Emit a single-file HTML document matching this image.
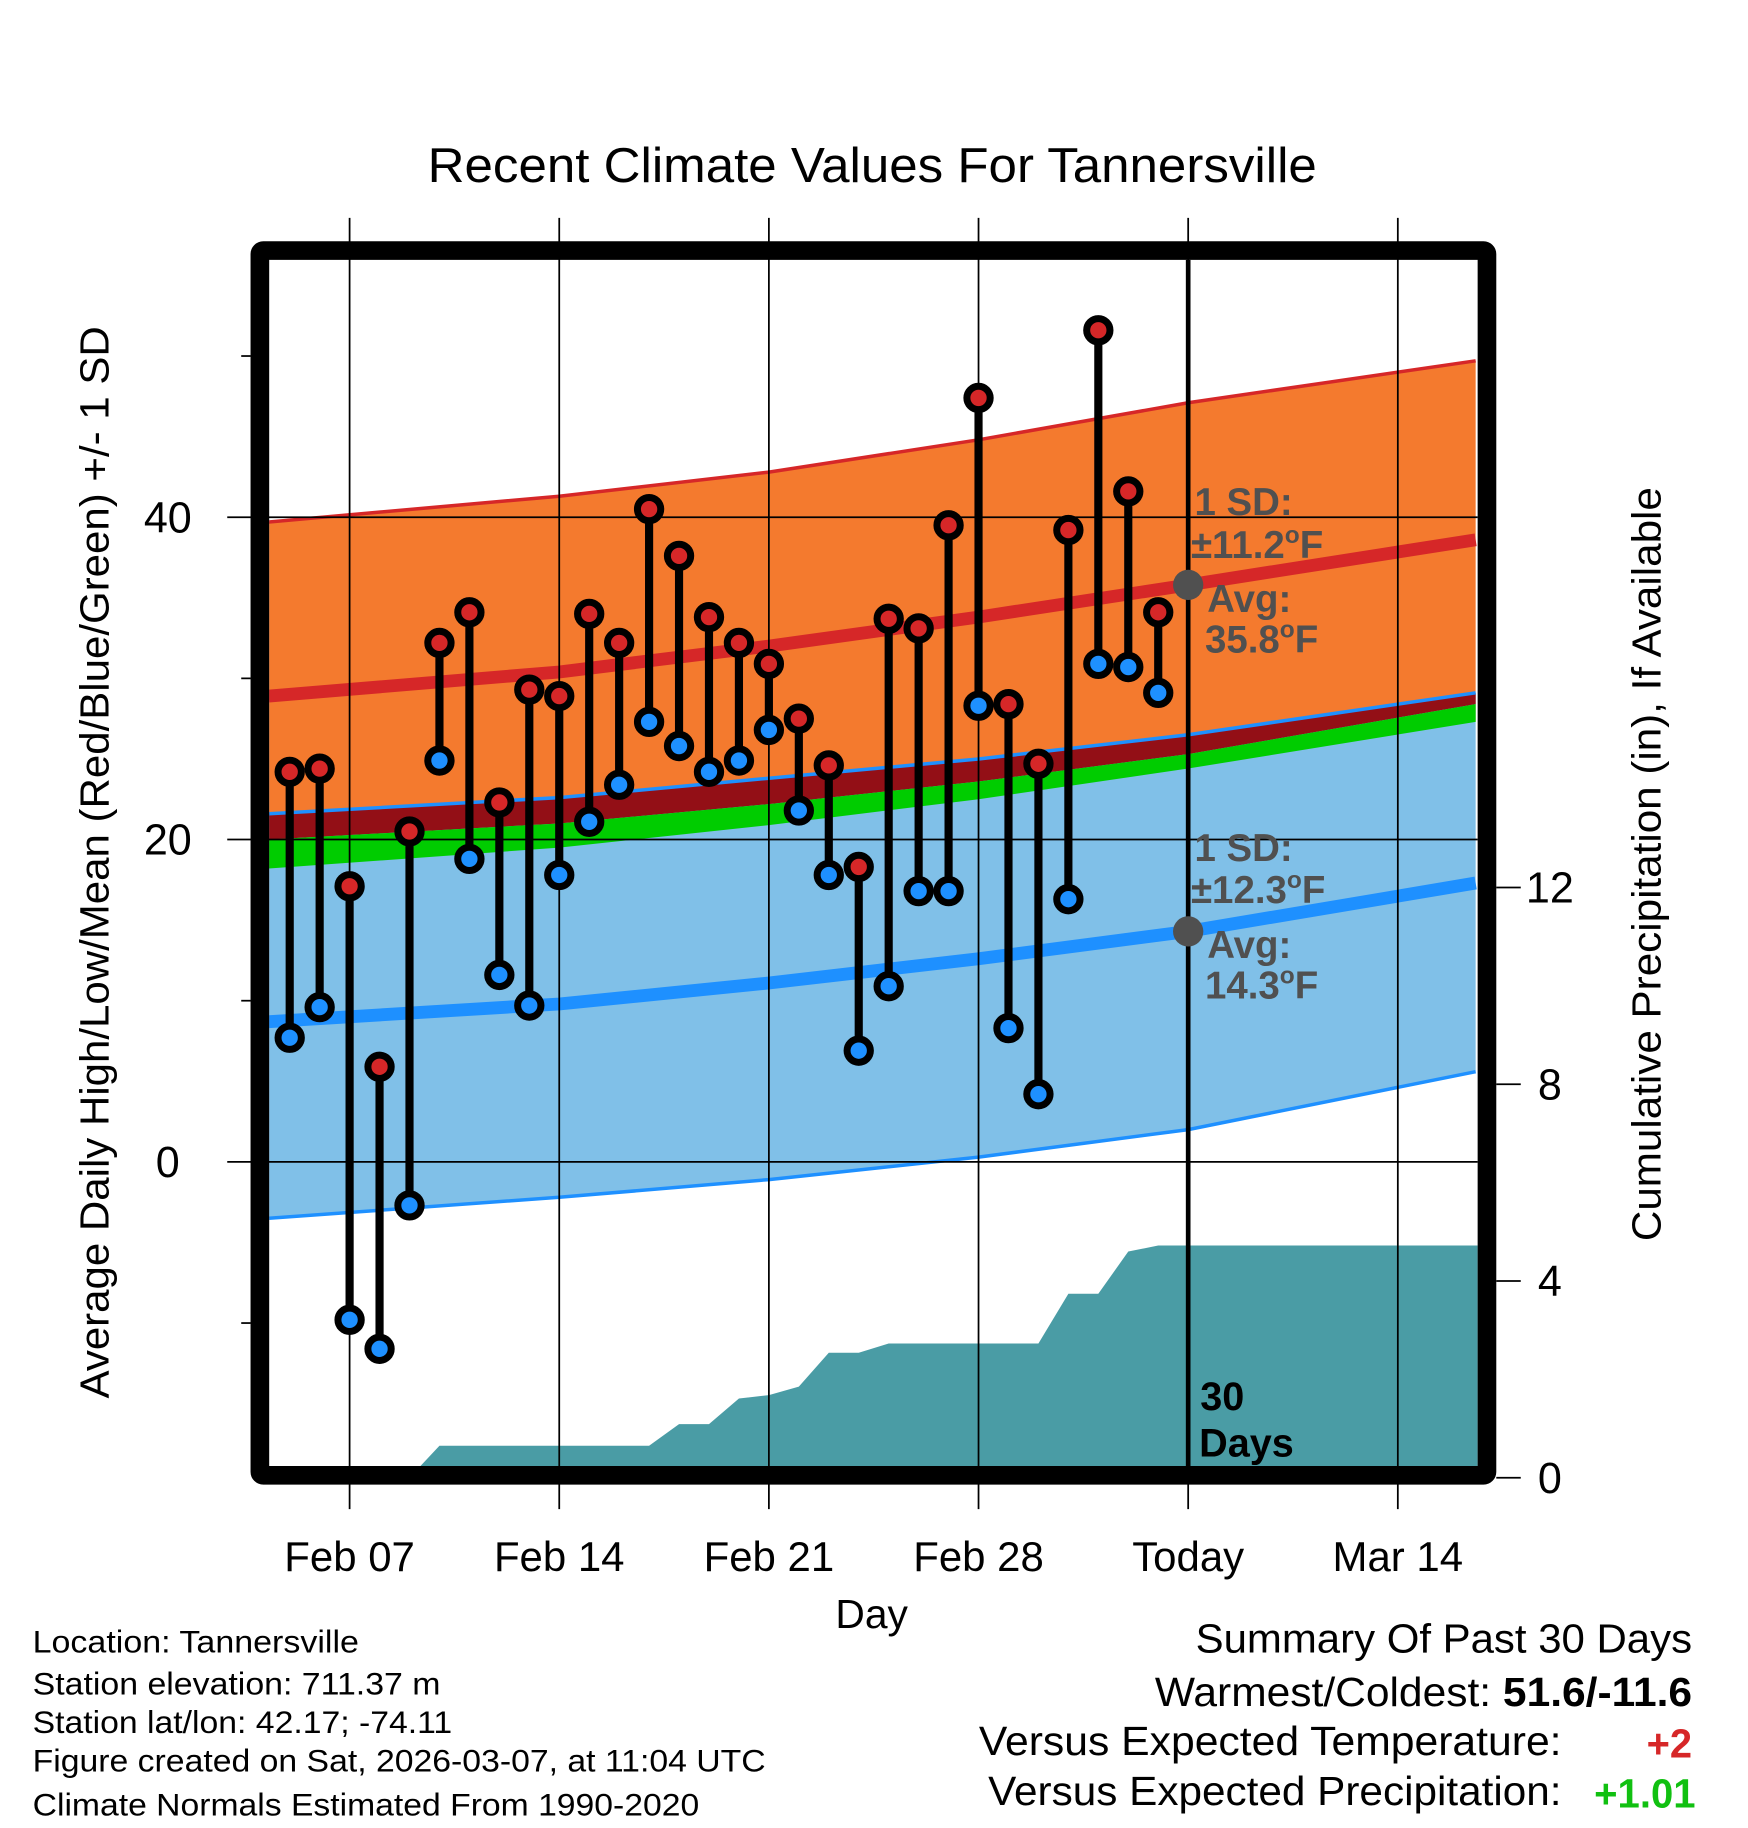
<!DOCTYPE html>
<html><head><meta charset="utf-8"><style>
html,body{margin:0;padding:0;background:#fff}
svg{display:block}
text{font-family:"Liberation Sans",sans-serif}
</style></head><body>
<svg id="chart" xmlns="http://www.w3.org/2000/svg" width="1748" height="1828" viewBox="0 0 1500 1568.6" preserveAspectRatio="none">
<defs><clipPath id="plotclip"><rect x="231" y="223" width="1037" height="1036"/></clipPath></defs>
<text x="367" y="156" font-size="42" textLength="763" lengthAdjust="spacingAndGlyphs">Recent Climate Values For Tannersville</text>
<g id="plot" clip-path="url(#plotclip)"></g>
<g id="axes"></g>
<g id="marks"></g>
<text transform="translate(93,1200) rotate(-90)" font-size="35" textLength="920" lengthAdjust="spacingAndGlyphs">Average Daily High/Low/Mean (Red/Blue/Green) +/- 1 SD</text>
<text transform="translate(1425,1065) rotate(-90)" font-size="35" textLength="647" lengthAdjust="spacingAndGlyphs">Cumulative Precipitation (in), If Available</text>
<text x="748" y="1397" font-size="35" text-anchor="middle">Day</text>
<g font-size="27">
<text x="28" y="1418" textLength="280" lengthAdjust="spacingAndGlyphs">Location: Tannersville</text>
<text x="28" y="1454" textLength="350" lengthAdjust="spacingAndGlyphs">Station elevation: 711.37 m</text>
<text x="28" y="1487" textLength="360" lengthAdjust="spacingAndGlyphs">Station lat/lon: 42.17; -74.11</text>
<text x="28" y="1520" textLength="629" lengthAdjust="spacingAndGlyphs">Figure created on Sat, 2026-03-07, at 11:04 UTC</text>
<text x="28" y="1558" textLength="572" lengthAdjust="spacingAndGlyphs">Climate Normals Estimated From 1990-2020</text>
</g>
<g font-size="35">
<text x="1026" y="1418" textLength="426" lengthAdjust="spacingAndGlyphs">Summary Of Past 30 Days</text>
<text x="991" y="1464" textLength="461" lengthAdjust="spacingAndGlyphs">Warmest/Coldest: <tspan font-weight="bold">51.6/-11.6</tspan></text>
<text x="840" y="1506" textLength="500" lengthAdjust="spacingAndGlyphs">Versus Expected Temperature:</text>
<text x="1413" y="1508" font-weight="bold" fill="#d62728" textLength="39" lengthAdjust="spacingAndGlyphs">+2</text>
<text x="848" y="1549" textLength="492" lengthAdjust="spacingAndGlyphs">Versus Expected Precipitation:</text>
<text x="1368" y="1551" font-weight="bold" fill="#11c011" textLength="87" lengthAdjust="spacingAndGlyphs">+1.01</text>
</g>
</svg>
<script>
// ---- data ----
const dayIdx = [5,6,7,8,9,10,11,12,13,14,15,16,17,18,19,20,21,22,23,24,25,26,27,28,29,30,31,32,33,34]; // Feb day numbers (29=Mar1)
const highs = [24.2,24.4,17.1,5.9,20.5,32.2,34.1,22.3,29.3,28.9,34.0,32.2,40.5,37.6,33.8,32.2,30.9,27.5,24.6,18.3,33.7,33.1,39.5,47.4,28.4,24.7,39.2,51.6,41.6,34.1];
const lows = [7.7,9.6,-9.8,-11.6,-2.7,24.9,18.8,11.6,9.7,17.8,21.1,23.4,27.3,25.8,24.2,24.9,26.8,21.8,17.8,6.9,10.9,16.8,16.8,28.3,8.3,4.2,16.3,30.9,30.7,29.1];
const precip = [0,0,0,0,0,0.65,0.65,0.65,0.65,0.65,0.65,0.65,0.65,1.09,1.09,1.61,1.68,1.85,2.54,2.54,2.73,2.73,2.73,2.73,2.73,2.73,3.74,3.74,4.6,4.72];
const normDays = [4.3,14,21,28,35,44.6];
const highUpper = [39.7,41.3,42.8,44.8,47.1,49.7];
const highMean = [28.9,30.4,32.0,33.8,35.8,38.6];
const lowUpper = [21.6,22.6,23.8,25.0,26.5,29.1];
const lowMean = [8.7,9.8,11.1,12.6,14.3,17.3];
const lowLower = [-3.5,-2.2,-1.1,0.3,2.0,5.6];
const greenTop = [20.0,21.0,22.2,23.6,25.3,28.4];
const greenBot = [18.2,19.5,20.9,22.5,24.4,27.3];
const xTickDays = [7,14,21,28,35,42];
const xTickLabels = ["Feb 07","Feb 14","Feb 21","Feb 28","Today","Mar 14"];
const yTicks = [0,20,40];
const yMinor = [-10,10,30,50];
const pTicks = [0,4,8,12];
// ---- scales ----
const X = d => 300 + (d-7)*25.7;
const Y = t => 997 - t*13.83;
const P = p => 1268 - p*42.2;
const NS = "http://www.w3.org/2000/svg";
function mk(tag, attrs, parent){const e=document.createElementNS(NS,tag);for(const k in attrs)e.setAttribute(k,attrs[k]);parent.appendChild(e);return e;}
const plot=document.getElementById('plot'), axes=document.getElementById('axes'), marks=document.getElementById('marks');
function pts(arr){return normDays.map((d,i)=>X(d).toFixed(1)+','+Y(arr[i]).toFixed(1));}
function band(a,b,fill,name){
  const p=pts(a).concat(pts(b).reverse()).join(' ');
  const e=mk('polygon',{points:p,fill:fill},plot);
  
  
}
function line(a,stroke,w,name){
  const e=mk('polyline',{points:pts(a).join(' '),fill:'none',stroke:stroke,'stroke-width':w},plot);
  
  
}
band(highUpper,greenBot,'#f47a2e','high-sd-band');
band(lowUpper,lowLower,'#80c0e8','low-sd-band');
band(lowUpper,greenTop,'#930f16','sd-overlap-band');
band(greenTop,greenBot,'#00cc00','mean-band');
line(highUpper,'#d62728',3,'high-upper-line');
line(lowUpper,'#1e90ff',3,'low-upper-line');
line(lowLower,'#1e90ff',3,'low-lower-line');
line(highMean,'#d62728',11,'high-mean-line');
line(lowMean,'#1e90ff',11,'low-mean-line');
// precipitation area
{
  let d='M'+X(dayIdx[0])+','+P(0);
  dayIdx.forEach((dd,i)=>{d+=' L'+X(dd).toFixed(1)+','+P(precip[i]).toFixed(1);});
  d+=' L'+X(45)+','+P(precip[precip.length-1]).toFixed(1)+' L'+X(45)+','+P(0)+' Z';
  const e=mk('path',{d:d,fill:'#4a9ca5'},plot);
  
  
}
// grid
xTickDays.forEach((d,i)=>{
  const e=mk('line',{x1:X(d),x2:X(d),y1:187,y2:1295,stroke:'#000','stroke-width':1.5},axes);
  
  
  const t=mk('text',{x:X(d),y:1348,'font-size':36,'text-anchor':'middle'},axes);
  t.textContent=xTickLabels[i];
  
  
});
yTicks.forEach(v=>{
  const e=mk('line',{x1:195,x2:1268,y1:Y(v),y2:Y(v),stroke:'#000','stroke-width':1.5},axes);
  
  
  const t=mk('text',{x:144,y:Y(v)+13,'font-size':37,'text-anchor':'middle'},axes);
  t.textContent=v;
  
  
});
yMinor.forEach(v=>{
  const e=mk('line',{x1:207,x2:215,y1:Y(v),y2:Y(v),stroke:'#000','stroke-width':1.5},axes);
  
  
});
pTicks.forEach(v=>{
  const e=mk('line',{x1:1284,x2:1305,y1:P(v),y2:P(v),stroke:'#000','stroke-width':1.5},axes);
  
  
  const t=mk('text',{x:1330,y:P(v)+13,'font-size':37,'text-anchor':'middle'},axes);
  t.textContent=v;
  
  
});
// frame
{
  const f=mk('rect',{x:223,y:215,width:1053,height:1051,fill:'none',stroke:'#000','stroke-width':16,rx:3},axes);
  
  
  const tl=mk('line',{x1:X(35),x2:X(35),y1:223,y2:1259,stroke:'#000','stroke-width':4},axes);
  
  
}
// daily marks
dayIdx.forEach((d,i)=>{
  const x=X(d);
  const s=mk('line',{x1:x,x2:x,y1:Y(highs[i]),y2:Y(lows[i]),stroke:'#000','stroke-width':7},marks);
  
  
  const h=mk('circle',{cx:x,cy:Y(highs[i]),r:10,fill:'#d62728',stroke:'#000','stroke-width':6},marks);
  
  
  const l=mk('circle',{cx:x,cy:Y(lows[i]),r:10,fill:'#1e90ff',stroke:'#000','stroke-width':6},marks);
  
  
});
// annotations
function ann(lines,name){
  const g=mk('g',{'font-size':33,'font-weight':'bold',fill:'#505050'},marks);
  
  
  lines.forEach(l=>{const t=mk('text',{x:l[0],y:l[1]},g);t.innerHTML=l[2];});
}
const hiAvg=highMean[4], loAvg=lowMean[4];
{
  const c1=mk('circle',{cx:X(35),cy:Y(hiAvg),r:13,fill:'#505050'},marks);
  
  
  const c2=mk('circle',{cx:X(35),cy:Y(loAvg),r:13,fill:'#505050'},marks);
  
  
}
ann([[1025,442,'1 SD:'],[1022,479,'±11.2<tspan font-size="21" dy="-13">o</tspan><tspan dy="13">F</tspan>'],[1036,525,'Avg:'],[1034,560,'35.8<tspan font-size="21" dy="-13">o</tspan><tspan dy="13">F</tspan>']],'high-annotation');
ann([[1025,739,'1 SD:'],[1022,775,'±12.3<tspan font-size="21" dy="-13">o</tspan><tspan dy="13">F</tspan>'],[1036,822,'Avg:'],[1034,857,'14.3<tspan font-size="21" dy="-13">o</tspan><tspan dy="13">F</tspan>']],'low-annotation');
{
  const g=mk('g',{'font-size':34,'font-weight':'bold',fill:'#000'},marks);
  
  
  const a=mk('text',{x:1030,y:1210},g);a.textContent='30';
  const b=mk('text',{x:1029,y:1250},g);b.textContent='Days';
}
</script>
</body></html>
